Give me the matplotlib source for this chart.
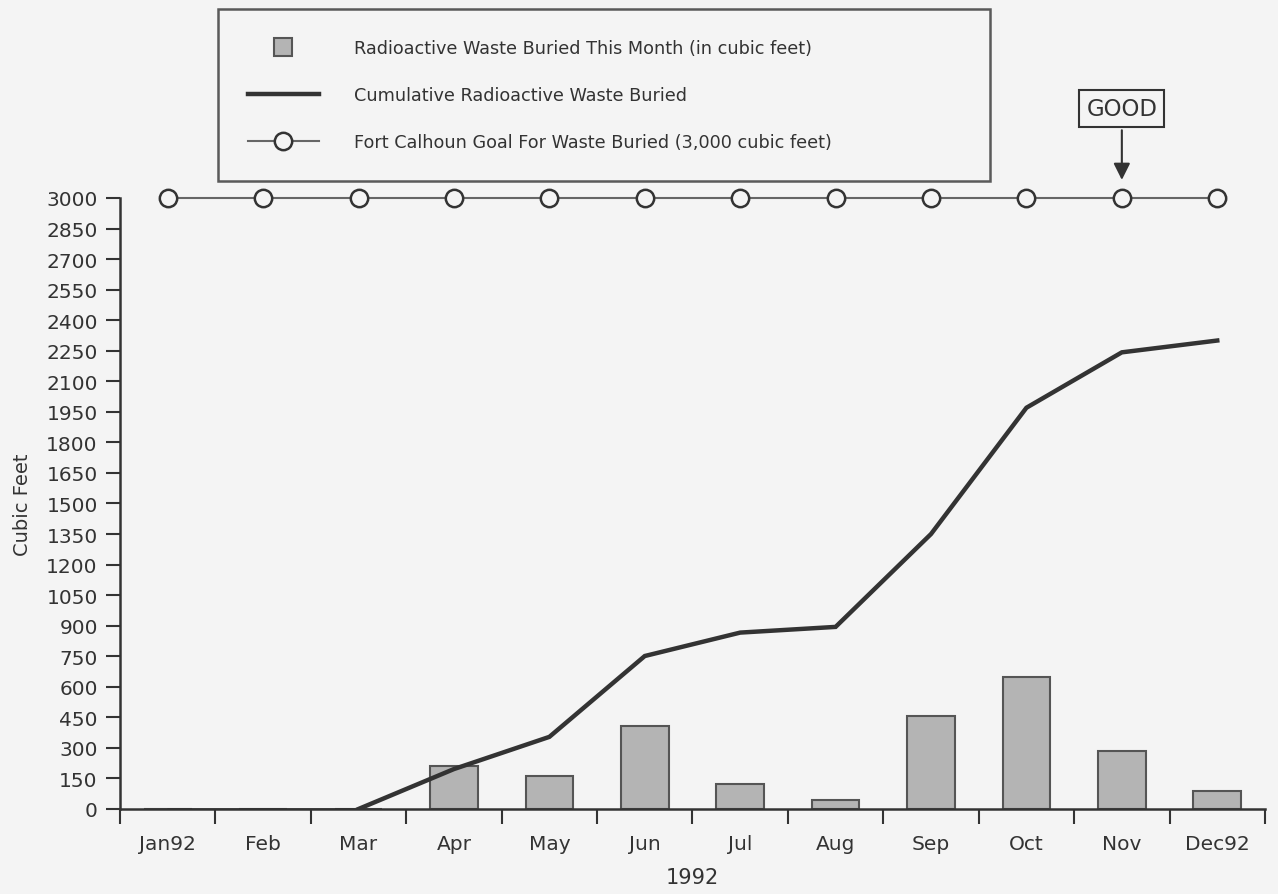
import matplotlib.pyplot as plt
import numpy as np
from matplotlib.lines import Line2D

months = ['Jan92', 'Feb', 'Mar', 'Apr', 'May', 'Jun', 'Jul', 'Aug', 'Sep', 'Oct', 'Nov', 'Dec92']
monthly = [0, 0, 0, 210, 160, 405, 122, 42, 455, 650, 285, 88]
cumulative = [0, 0, 0, 196, 354, 751, 866, 894, 1350, 1970, 2242, 2300]
goal = [3000] * 12
yticks = list(range(0, 3001, 150))

ink = '#333333'
bar_face = '#b4b4b4'
bg = '#f4f4f4'

plt.rcParams['font.family'] = 'DejaVu Sans'
fig = plt.figure(figsize=(12.78, 8.95), dpi=100, facecolor=bg)
ax = fig.add_axes([0.0939, 0.0950, 0.8959, 0.6827], facecolor=bg)

x = np.arange(len(months))
ax.bar(x, monthly, width=0.5, color=bar_face, edgecolor='#555555', linewidth=1.5, zorder=2)
ax.plot(x[2:], cumulative[2:], color=ink, lw=3.2, solid_joinstyle='miter', zorder=3)
ax.plot(x[:3], cumulative[:3], color=ink, lw=1.8, zorder=3)
ax.plot(x, goal, color='#666666', lw=1.5, marker='o', markersize=12.5,
        mfc=bg, mec=ink, mew=1.8, clip_on=False, zorder=4)

ax.set_xlim(-0.5, 11.5)
ax.set_ylim(0, 3000)
ax.set_yticks(yticks)
ax.tick_params(axis='y', direction='out', length=10, width=1.5, colors=ink, labelsize=14.5, pad=6)
ax.set_xticks(x)
ax.set_xticklabels(months)
ax.set_xticks(np.arange(-0.5, 12, 1), minor=True)
ax.tick_params(axis='x', which='major', length=0, labelsize=14.5, colors=ink, pad=18)
ax.tick_params(axis='x', which='minor', direction='out', length=11, width=1.5, colors=ink)

for s in ['top', 'right']:
    ax.spines[s].set_visible(False)
for s in ['left', 'bottom']:
    ax.spines[s].set_linewidth(1.8)
    ax.spines[s].set_color(ink)

ax.set_ylabel('Cubic Feet', fontsize=14, color=ink, labelpad=10)
ax.set_xlabel('1992', fontsize=15, color=ink, labelpad=10)

ax.annotate('GOOD', xy=(10, 3075), xytext=(10, 3440), ha='center', va='center',
            fontsize=16.5, color=ink, annotation_clip=False,
            bbox=dict(boxstyle='square,pad=0.3', fc=bg, ec=ink, lw=1.5),
            arrowprops=dict(arrowstyle='-|>', color=ink, lw=1.5, mutation_scale=25))

handles = [
    Line2D([], [], ls='none', marker='s', markersize=13, mfc=bar_face, mec='#555555', mew=1.5),
    Line2D([], [], color=ink, lw=3.2),
    Line2D([], [], color='#666666', lw=1.5, marker='o', markersize=12.5, mfc=bg, mec=ink, mew=1.8),
]
labels = ['Radioactive Waste Buried This Month (in cubic feet)',
          'Cumulative Radioactive Waste Buried',
          'Fort Calhoun Goal For Waste Buried (3,000 cubic feet)']
leg = fig.legend(handles, labels, loc='upper left', bbox_to_anchor=(0.1706, 0.989, 0.604, 0.0),
                 mode='expand', fontsize=12.7, frameon=True, fancybox=False, handlelength=4.0,
                 handletextpad=2.0, labelspacing=1.65, borderpad=1.7, borderaxespad=0)
leg.get_frame().set_edgecolor(ink)
leg.get_frame().set_linewidth(1.8)
leg.get_frame().set_facecolor(bg)
for t in leg.get_texts():
    t.set_color(ink)

plt.savefig('out.png', dpi=100, facecolor=bg)
